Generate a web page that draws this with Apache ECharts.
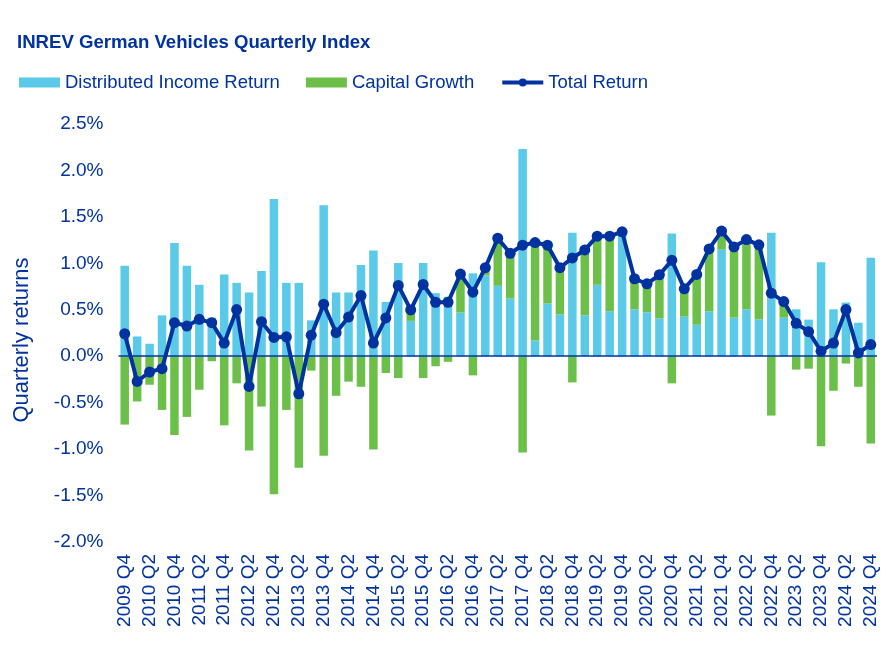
<!DOCTYPE html>
<html>
<head>
<meta charset="utf-8">
<script src="https://cdn.jsdelivr.net/npm/echarts@6/dist/echarts.min.js"></script>
<style>
html,body{margin:0;padding:0;background:#fff;}
#chart{width:891px;height:671px;}
</style>
</head>
<body>
<div id="chart"></div>
<script>
const quarters = [
  "2009 Q4",
  "2010 Q1","2010 Q2","2010 Q3","2010 Q4",
  "2011 Q1","2011 Q2","2011 Q3","2011 Q4",
  "2012 Q1","2012 Q2","2012 Q3","2012 Q4",
  "2013 Q1","2013 Q2","2013 Q3","2013 Q4",
  "2014 Q1","2014 Q2","2014 Q3","2014 Q4",
  "2015 Q1","2015 Q2","2015 Q3","2015 Q4",
  "2016 Q1","2016 Q2","2016 Q3","2016 Q4",
  "2017 Q1","2017 Q2","2017 Q3","2017 Q4",
  "2018 Q1","2018 Q2","2018 Q3","2018 Q4",
  "2019 Q1","2019 Q2","2019 Q3","2019 Q4",
  "2020 Q1","2020 Q2","2020 Q3","2020 Q4",
  "2021 Q1","2021 Q2","2021 Q3","2021 Q4",
  "2022 Q1","2022 Q2","2022 Q3","2022 Q4",
  "2023 Q1","2023 Q2","2023 Q3","2023 Q4",
  "2024 Q1","2024 Q2","2024 Q3","2024 Q4"
];

const incomeReturn = [
  0.975,
  0.213,0.134,0.44,1.22,
  0.975,0.769,0.415,0.88,
  0.79,0.686,0.917,1.693,
  0.79,0.79,0.386,1.625,
  0.686,0.686,0.982,1.137,
  0.585,1.004,0.38,1.004,
  0.679,0.64,0.47,0.892,
  0.87,0.758,0.621,2.231,
  0.17,0.567,0.451,1.329,
  0.44,0.769,0.484,1.318,
  0.505,0.473,0.408,1.321,
  0.426,0.339,0.484,1.148,
  0.415,0.505,0.397,1.329,
  0.415,0.505,0.394,1.011,
  0.505,0.578,0.361,1.061
];

const capitalGrowth = [
  -0.736,
  -0.487,-0.307,-0.578,-0.848,
  -0.653,-0.361,-0.054,-0.744,
  -0.292,-1.014,-0.542,-1.487,
  -0.578,-1.2,-0.155,-1.072,
  -0.426,-0.274,-0.329,-1.004,
  -0.18,-0.235,0.12,-0.235,
  -0.108,-0.06,0.41,-0.206,
  0.08,0.5,0.49,-1.036,
  1.05,0.62,0.5,-0.282,
  0.70,0.52,0.81,0.02,
  0.33,0.31,0.47,-0.292,
  0.30,0.54,0.67,0.20,
  0.76,0.75,0.80,-0.639,
  0.17,-0.144,-0.134,-0.968,
  -0.372,-0.079,-0.329,-0.939
];

const totalReturn = [
  0.242,
  -0.271,-0.17,-0.134,0.361,
  0.325,0.397,0.361,0.141,
  0.502,-0.325,0.372,0.202,
  0.209,-0.404,0.227,0.56,
  0.253,0.422,0.653,0.141,
  0.412,0.762,0.498,0.773,
  0.581,0.581,0.884,0.69,
  0.953,1.27,1.108,1.195,
  1.224,1.195,0.953,1.058,
  1.144,1.292,1.292,1.339,
  0.834,0.78,0.877,1.032,
  0.726,0.881,1.155,1.347,
  1.177,1.256,1.199,0.679,
  0.588,0.354,0.264,0.054,
  0.141,0.502,0.036,0.126
];

const NAVY = '#0033A0';
const LIGHTBLUE = '#5BC9E8';
const GREEN = '#6CC04A';
const FONT = "'Liberation Sans', Arial, sans-serif";

const chart = echarts.init(document.getElementById('chart'), null, {renderer: 'canvas'});
chart.setOption({
  animation: false,
  backgroundColor: '#ffffff',
  textStyle: {fontFamily: FONT, color: NAVY},
  title: {
    text: 'INREV German Vehicles Quarterly Index',
    left: 12,
    top: 28,
    textStyle: {fontFamily: FONT, fontSize: 18.6, fontWeight: 'bold', color: NAVY}
  },
  legend: {
    left: 14,
    top: 68,
    itemWidth: 41,
    itemHeight: 10,
    itemGap: 26,
    textStyle: {fontFamily: FONT, fontSize: 18.5, color: NAVY},
    data: [
      {name: 'Distributed Income Return', icon: 'rect'},
      {name: 'Capital Growth', icon: 'rect'},
      {name: 'Total Return', lineStyle: {width: 4, color: NAVY}, itemStyle: {color: NAVY}}
    ]
  },
  grid: {left: 118.5, right: 14, top: 124, bottom: 129, containLabel: false},
  xAxis: {
    type: 'category',
    data: quarters,
    axisLine: {show: false, onZero: false},
    axisTick: {show: false},
    axisLabel: {
      interval: 1,
      rotate: 90,
      margin: 12,
      fontFamily: FONT,
      fontSize: 19,
      color: NAVY
    }
  },
  yAxis: {
    type: 'value',
    min: -2,
    max: 2.5,
    interval: 0.5,
    name: 'Quarterly returns',
    nameLocation: 'middle',
    nameGap: 86,
    nameTextStyle: {fontFamily: FONT, fontSize: 22, color: NAVY, padding: [0, 14, 0, 0]},
    axisLine: {show: false},
    axisTick: {show: false},
    splitLine: {show: false},
    axisLabel: {
      margin: 15,
      fontFamily: FONT,
      fontSize: 19,
      color: NAVY,
      formatter: v => v.toFixed(1) + '%'
    }
  },
  series: [
    {
      name: 'Distributed Income Return',
      type: 'bar',
      stack: 'ret',
      data: incomeReturn,
      barWidth: 8.5,
      itemStyle: {color: LIGHTBLUE},
      z: 2
    },
    {
      name: 'Capital Growth',
      type: 'bar',
      stack: 'ret',
      data: capitalGrowth,
      barWidth: 8.5,
      itemStyle: {color: GREEN},
      z: 2,
      markLine: {
        silent: true,
        symbol: ['none', 'none'],
        label: {show: false},
        lineStyle: {color: NAVY, width: 1.5, type: 'solid'},
        data: [{yAxis: 0}],
        z: 3
      }
    },
    {
      name: 'Total Return',
      type: 'line',
      data: totalReturn,
      symbol: 'circle',
      symbolSize: 11,
      showAllSymbol: true,
      lineStyle: {color: NAVY, width: 4},
      itemStyle: {color: NAVY},
      z: 5
    }
  ]
});
</script>
</body>
</html>
